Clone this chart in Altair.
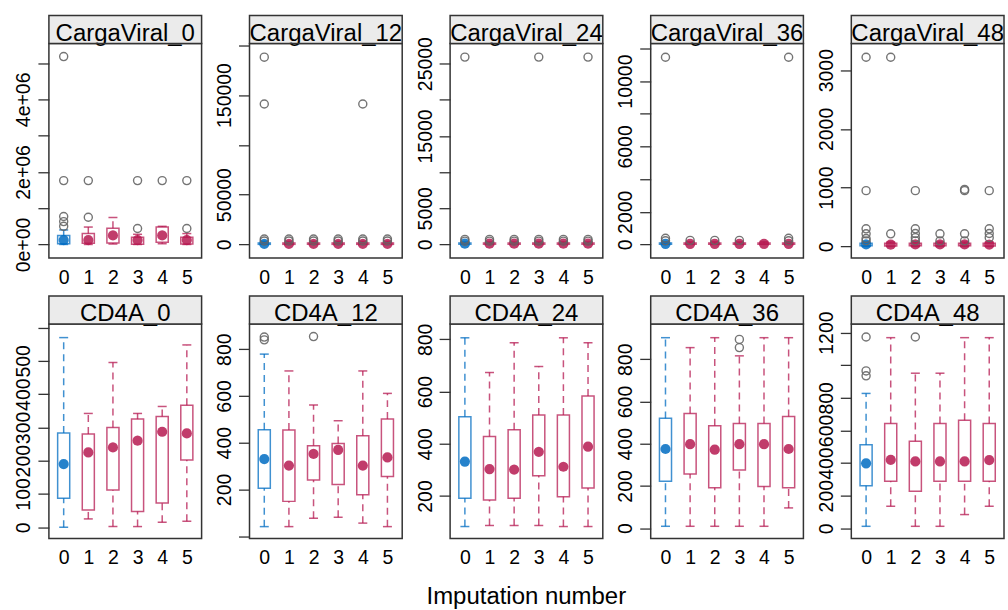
import altair as alt
import pandas as pd

FONT = "Liberation Sans"
BLUE = "#006CC2"
RED = "#B61A51"
FRAME = "#333333"
STRIP = "#ebebeb"
OUTLIER = "#666666"

GROUPS = [0, 1, 2, 3, 4, 5]

# ---------------- CargaViral_0
CV0_LOW = [0, 0, 10000, 0, 20000, 0]
CV0_Q1 = [20000, 30000, 40000, 5000, 60000, 10000]
CV0_MED = [120000, 120000, 250000, 120000, 250000, 120000]
CV0_Q3 = [250000, 300000, 450000, 200000, 480000, 200000]
CV0_HIGH = [400000, 480000, 740000, 280000, 500000, 300000]
CV0_OUT_G = [0, 0, 0, 0, 0, 1, 1, 3, 3, 4, 5, 5]
CV0_OUT_V = [500000, 630000, 770000, 1760000, 5180000, 750000, 1760000,
             440000, 1760000, 1760000, 440000, 1760000]
CV0_TICKS = [0, 1000000, 2000000, 3000000, 4000000, 5000000]
CV0_LABELS = ["0e+00", "", "2e+06", "", "4e+06", ""]
CV0_DOMAIN = [-376000, 5540000]

# ---------------- CargaViral_12
CV12_LOW = [0, 0, 0, 0, 0, 0]
CV12_Q1 = [100, 100, 100, 100, 100, 100]
CV12_MED = [600, 600, 600, 600, 600, 600]
CV12_Q3 = [1500, 1500, 1500, 1500, 1500, 1500]
CV12_HIGH = [3000, 3000, 3000, 3000, 3000, 3000]
CV12_OUT_G = [0, 0, 0, 0, 1, 1, 2, 2, 3, 3, 4, 4, 4, 5, 5]
CV12_OUT_V = [3500, 5500, 141000, 188000, 3500, 5500, 3500, 5500, 3500, 5500,
              3500, 5500, 141000, 3500, 5500]
CV12_TICKS = [0, 50000, 100000, 150000, 200000]
CV12_LABELS = ["0", "50000", "", "150000", ""]
CV12_DOMAIN = [-13700, 201700]

# ---------------- CargaViral_24
CV24_LOW = [0, 0, 0, 0, 0, 0]
CV24_Q1 = [30, 30, 30, 30, 30, 30]
CV24_MED = [100, 100, 100, 100, 100, 100]
CV24_Q3 = [200, 200, 200, 200, 200, 200]
CV24_HIGH = [350, 350, 350, 350, 350, 350]
CV24_OUT_G = [0, 0, 0, 1, 1, 2, 2, 3, 3, 3, 4, 4, 5, 5, 5]
CV24_OUT_V = [450, 700, 25900, 450, 700, 450, 700, 450, 700, 25900,
              450, 700, 450, 700, 25900]
CV24_TICKS = [0, 5000, 10000, 15000, 20000, 25000]
CV24_LABELS = ["0", "5000", "", "15000", "", "25000"]
CV24_DOMAIN = [-1890, 27780]

# ---------------- CargaViral_36
CV36_LOW = [0, 0, 0, 0, 0, 0]
CV36_Q1 = [10, 10, 10, 10, 10, 10]
CV36_MED = [40, 40, 40, 40, 40, 40]
CV36_Q3 = [90, 90, 90, 90, 90, 90]
CV36_HIGH = [160, 160, 160, 160, 160, 160]
CV36_OUT_G = [0, 0, 0, 1, 2, 3, 5, 5, 5]
CV36_OUT_V = [220, 380, 11460, 250, 250, 250, 220, 380, 11460]
CV36_TICKS = [0, 2000, 4000, 6000, 8000, 10000, 12000]
CV36_LABELS = ["0", "2000", "", "6000", "", "10000", ""]
CV36_DOMAIN = [-836, 12300]

# ---------------- CargaViral_48
CV48_LOW = [0, 0, 0, 0, 0, 0]
CV48_Q1 = [10, 8, 10, 10, 10, 8]
CV48_MED = [34, 30, 34, 34, 34, 32]
CV48_Q3 = [55, 55, 55, 55, 55, 55]
CV48_HIGH = [75, 75, 75, 75, 75, 75]
CV48_OUT_G = [0, 0, 0, 0, 0, 0, 1, 1, 2, 2, 2, 2, 2, 3, 3, 4, 4, 4, 4,
              5, 5, 5, 5]
CV48_OUT_V = [95, 135, 215, 300, 950, 3220, 215, 3220, 95, 150, 220, 300, 950,
              95, 215, 95, 215, 950, 970, 150, 220, 300, 950]
CV48_TICKS = [0, 1000, 2000, 3000]
CV48_LABELS = ["0", "1000", "2000", "3000"]
CV48_DOMAIN = [-198, 3453]

# ---------------- CD4A_0
CD0_LOW = [0, 25, 2, 2, 15, 18]
CD0_Q1 = [87, 52, 112, 47, 73, 202]
CD0_MED = [190, 225, 240, 260, 287, 282]
CD0_Q3 = [283, 280, 300, 325, 333, 367]
CD0_HIGH = [570, 342, 495, 342, 363, 548]
CD0_OUT_G = []
CD0_OUT_V = []
CD0_TICKS = [0, 100, 200, 300, 400, 500, 600]
CD0_LABELS = ["0", "100", "200", "300", "400", "500", ""]
CD0_DOMAIN = [-34, 611]

# ---------------- CD4A_12
CD12_LOW = [41, 41, 77, 81, 56, 41]
CD12_Q1 = [205, 149, 240, 221, 177, 255]
CD12_MED = [330, 302, 352, 369, 302, 337]
CD12_Q3 = [455, 454, 387, 397, 430, 501]
CD12_HIGH = [779, 707, 561, 494, 707, 611]
CD12_OUT_G = [0, 0, 2]
CD12_OUT_V = [840, 852, 854]
CD12_TICKS = [0, 200, 400, 600, 800]
CD12_LABELS = ["", "200", "400", "600", "800"]
CD12_DOMAIN = [-10, 908]

# ---------------- CD4A_24
CD24_LOW = [83, 87, 87, 87, 83, 83]
CD24_Q1 = [191, 185, 191, 278, 197, 231]
CD24_MED = [332, 303, 301, 369, 312, 389]
CD24_Q3 = [504, 428, 454, 510, 510, 583]
CD24_HIGH = [806, 673, 787, 696, 806, 787]
CD24_OUT_G = []
CD24_OUT_V = []
CD24_TICKS = [200, 400, 600, 800]
CD24_LABELS = ["200", "400", "600", "800"]
CD24_DOMAIN = [37, 859]

# ---------------- CD4A_36
CD36_LOW = [9, 9, 9, 9, 9, 96]
CD36_Q1 = [222, 257, 191, 276, 197, 191]
CD36_MED = [375, 398, 372, 398, 398, 375]
CD36_Q3 = [520, 543, 485, 496, 496, 529]
CD36_HIGH = [902, 855, 902, 816, 902, 902]
CD36_OUT_G = [3, 3]
CD36_OUT_V = [855, 894]
CD36_TICKS = [0, 200, 400, 600, 800]
CD36_LABELS = ["0", "200", "400", "600", "800"]
CD36_DOMAIN = [-49, 967]

# ---------------- CD4A_48
CD48_LOW = [12, 135, 12, 12, 84, 135]
CD48_Q1 = [261, 288, 227, 288, 288, 288]
CD48_MED = [398, 420, 410, 410, 410, 418]
CD48_Q3 = [512, 643, 533, 643, 663, 643]
CD48_HIGH = [827, 1169, 951, 951, 1169, 1169]
CD48_OUT_G = [0, 0, 0, 2]
CD48_OUT_V = [935, 965, 1173, 1173]
CD48_TICKS = [0, 200, 400, 600, 800, 1000, 1200]
CD48_LABELS = ["0", "200", "400", "600", "800", "", "1200"]
CD48_DOMAIN = [-63, 1253]

PANEL_W = 153
PANEL_H = 215
STRIP_H = 28
TICK_FONT = 19.5


def label_expr(ticks, labels):
    expr = "''"
    for v, l in reversed(list(zip(ticks, labels))):
        expr = f"datum.value == {v} ? '{l}' : ({expr})"
    return expr


def panel(name, low, q1, med, q3, high, out_g, out_v, domain, ticks, labels):
    box = pd.DataFrame(dict(group=GROUPS, low=low, q1=q1, med=med, q3=q3, high=high))
    xs = alt.Scale(domain=[-0.6, 5.6], nice=False, zero=False)
    ys = alt.Scale(domain=domain, nice=False, zero=False)
    xaxis = alt.Axis(values=GROUPS, title=None, ticks=False, tickSize=0, domain=False,
                     grid=False, labelPadding=10, labelFontSize=TICK_FONT, labelAngle=0,
                     labelFlush=False, labelOverlap=False, format="d")
    yaxis = alt.Axis(values=ticks, labelExpr=label_expr(ticks, labels), title=None,
                     grid=False, domain=False, tickSize=11, tickWidth=1.3,
                     tickColor=FRAME, labelAngle=270, labelAlign="center",
                     labelBaseline="alphabetic", labelPadding=8,
                     labelFontSize=TICK_FONT, labelOverlap=False, labelFlush=False)
    color = alt.condition("datum.group == 0", alt.value(BLUE), alt.value(RED))
    X = alt.X("group:Q", scale=xs, axis=xaxis)

    def Y(f):
        return alt.Y(f"{f}:Q", scale=ys, axis=yaxis)

    base = alt.Chart(box)
    upper = base.mark_rule(strokeDash=[7, 5], strokeWidth=1.5, opacity=0.75).encode(
        x=X, y=Y("q3"), y2="high:Q", color=color)
    lower = base.mark_rule(strokeDash=[7, 5], strokeWidth=1.5, opacity=0.75).encode(
        x=X, y=Y("low"), y2="q1:Q", color=color)
    cap_hi = base.mark_tick(orient="horizontal", size=9, thickness=1.5, opacity=0.75).encode(
        x=X, y=Y("high"), color=color)
    cap_lo = base.mark_tick(orient="horizontal", size=9, thickness=1.5, opacity=0.75).encode(
        x=X, y=Y("low"), color=color)
    rect = base.transform_calculate(
        xl="datum.group - 0.245", xr="datum.group + 0.245"
    ).mark_rect(filled=False, strokeWidth=1.5, opacity=0.75).encode(
        x=alt.X("xl:Q", scale=xs, axis=xaxis), x2="xr:Q",
        y=Y("q1"), y2="q3:Q", color=color)
    dot = base.mark_circle(size=105, opacity=0.85).encode(x=X, y=Y("med"), color=color)

    layers = [upper, lower, cap_hi, cap_lo, rect, dot]
    if len(out_v):
        out = pd.DataFrame(dict(group=out_g, value=out_v))
        layers.append(
            alt.Chart(out).mark_point(shape="circle", filled=False, size=65,
                                      strokeWidth=1.4, color=OUTLIER, opacity=0.9)
            .encode(x=X, y=Y("value"))
        )

    lab = pd.DataFrame({"label": [name]})
    strip_fill = alt.Chart(lab).mark_rect(fill=STRIP).encode(
        x=alt.value(0), x2=alt.value(PANEL_W), y=alt.value(-STRIP_H), y2=alt.value(0))
    strip_text = alt.Chart(lab).mark_text(
        fontSize=24, font=FONT, align="center", baseline="alphabetic", color="black"
    ).encode(x=alt.value(PANEL_W / 2), y=alt.value(-3), text="label:N")
    strip_border = alt.Chart(lab).mark_rect(
        filled=False, stroke=FRAME, strokeWidth=1.5
    ).encode(x=alt.value(0), x2=alt.value(PANEL_W), y=alt.value(-STRIP_H), y2=alt.value(0))
    layers += [strip_fill, strip_text, strip_border]

    return alt.layer(*layers).properties(width=PANEL_W, height=PANEL_H)


panels = [
    panel("CargaViral_0", CV0_LOW, CV0_Q1, CV0_MED, CV0_Q3, CV0_HIGH, CV0_OUT_G, CV0_OUT_V,
          CV0_DOMAIN, CV0_TICKS, CV0_LABELS),
    panel("CargaViral_12", CV12_LOW, CV12_Q1, CV12_MED, CV12_Q3, CV12_HIGH, CV12_OUT_G,
          CV12_OUT_V, CV12_DOMAIN, CV12_TICKS, CV12_LABELS),
    panel("CargaViral_24", CV24_LOW, CV24_Q1, CV24_MED, CV24_Q3, CV24_HIGH, CV24_OUT_G,
          CV24_OUT_V, CV24_DOMAIN, CV24_TICKS, CV24_LABELS),
    panel("CargaViral_36", CV36_LOW, CV36_Q1, CV36_MED, CV36_Q3, CV36_HIGH, CV36_OUT_G,
          CV36_OUT_V, CV36_DOMAIN, CV36_TICKS, CV36_LABELS),
    panel("CargaViral_48", CV48_LOW, CV48_Q1, CV48_MED, CV48_Q3, CV48_HIGH, CV48_OUT_G,
          CV48_OUT_V, CV48_DOMAIN, CV48_TICKS, CV48_LABELS),
    panel("CD4A_0", CD0_LOW, CD0_Q1, CD0_MED, CD0_Q3, CD0_HIGH, CD0_OUT_G, CD0_OUT_V,
          CD0_DOMAIN, CD0_TICKS, CD0_LABELS),
    panel("CD4A_12", CD12_LOW, CD12_Q1, CD12_MED, CD12_Q3, CD12_HIGH, CD12_OUT_G, CD12_OUT_V,
          CD12_DOMAIN, CD12_TICKS, CD12_LABELS),
    panel("CD4A_24", CD24_LOW, CD24_Q1, CD24_MED, CD24_Q3, CD24_HIGH, CD24_OUT_G, CD24_OUT_V,
          CD24_DOMAIN, CD24_TICKS, CD24_LABELS),
    panel("CD4A_36", CD36_LOW, CD36_Q1, CD36_MED, CD36_Q3, CD36_HIGH, CD36_OUT_G, CD36_OUT_V,
          CD36_DOMAIN, CD36_TICKS, CD36_LABELS),
    panel("CD4A_48", CD48_LOW, CD48_Q1, CD48_MED, CD48_Q3, CD48_HIGH, CD48_OUT_G, CD48_OUT_V,
          CD48_DOMAIN, CD48_TICKS, CD48_LABELS),
]

chart = alt.concat(
    *panels, columns=5, spacing={"row": 66, "column": 48}, bounds="flush"
).properties(
    title=alt.TitleParams("Imputation number", orient="bottom", anchor="middle",
                          fontSize=24, fontWeight="normal", font=FONT, color="black",
                          offset=17, dx=17),
    padding={"left": 13, "top": 13, "right": 2, "bottom": 2},
).configure(font=FONT).configure_view(
    stroke=FRAME, strokeWidth=1.5
).configure_axis(
    labelFont=FONT, labelColor="black"
)

chart.save("out.html", embed_options={"renderer": "svg", "actions": False})
